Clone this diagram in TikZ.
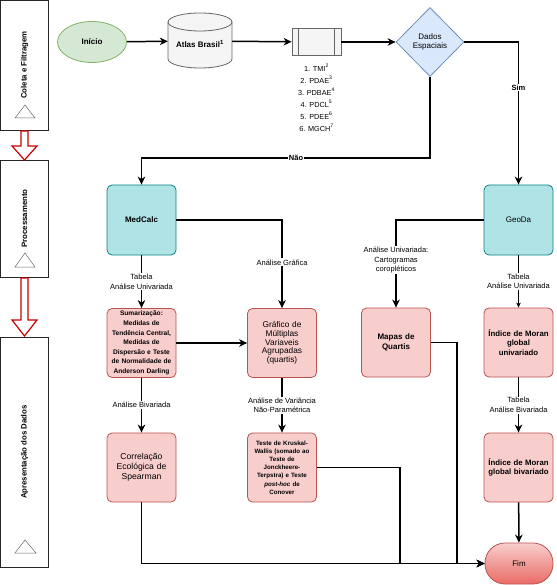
\documentclass[tikz,border=0pt]{standalone}
\usepackage{fontspec}
\setmainfont{Liberation Sans}
\usepackage{tikz}
\usetikzlibrary{arrows.meta}
\usetikzlibrary{shapes.geometric}
\usetikzlibrary{positioning}

\definecolor{grnfill}{HTML}{D5E8D4}
\definecolor{grnline}{HTML}{82B366}
\definecolor{gryfill}{HTML}{F5F5F5}
\definecolor{gryline}{HTML}{666666}
\definecolor{blufill}{HTML}{DAE8FC}
\definecolor{bluline}{HTML}{6C8EBF}
\definecolor{tealfill}{HTML}{B0E3E6}
\definecolor{tealline}{HTML}{0E8088}
\definecolor{pinkfill}{HTML}{F8CECC}
\definecolor{pinkline}{HTML}{B85450}
\definecolor{fimdark}{HTML}{EA6B66}
\definecolor{stagered}{HTML}{CC0000}

\begin{document}
\begin{tikzpicture}[x=1pt, y=-1pt, font=\fontsize{8}{9.6}\selectfont,
    flow/.style={line width=1.5pt, -{Stealth[length=8pt, width=7.5pt, inset=2.5pt]}},
    thinflow/.style={line width=0.6pt, -{Stealth[length=5pt, width=4.5pt, inset=1.5pt]}},
    lbl/.style={fill=white, inner sep=1pt, align=center, font=\fontsize{7.5}{9.5}\selectfont},
    tool/.style={rectangle, rounded corners=5pt, draw=tealline, fill=tealfill, line width=0.8pt, minimum width=69pt, minimum height=70pt, align=center},
    result/.style={rectangle, rounded corners=5pt, draw=pinkline, fill=pinkfill, line width=0.8pt, minimum width=69pt, minimum height=69pt, text width=66pt, align=center, inner sep=1pt},
    stage/.style={rectangle, draw=black!85, line width=0.6pt, fill=white, rotate=90, minimum height=48pt, font=\bfseries\fontsize{7.8}{9}\selectfont},
    mark3/.style={draw=gryline, line width=0.5pt, fill=white},
    bigarrow/.style={draw=stagered, line width=1.2pt, fill=white, line join=miter}]
    \useasboundingbox (0,0) rectangle (556,585);
    %% Stages
    \node[stage, minimum width=130pt] (coleta) at (24.5,65) {Coleta e Filtragem};
    \node[stage, minimum width=117pt] (process) at (24.5,218.5) {Processamento};
    \node[stage, minimum width=230pt] (apres) at (24.5,452) {Apresentação dos Dados};
    \draw[mark3] (25,105) -- (35,118) -- (15,118) -- cycle;
    \draw[mark3] (25,253) -- (35,267) -- (15,267) -- cycle;
    \draw[mark3] (25,540) -- (36,553) -- (15,553) -- cycle;
    \def\sl{21} \def\sr{28} \def\hl{12} \def\hr{37}
    \draw[bigarrow] (\sl,131) -- (\sr,131) -- (\sr,146) -- (\hr,146) -- (24.5,160) -- (\hl,146) -- (\sl,146) -- cycle;
    \draw[bigarrow] (\sl,278) -- (\sr,278) -- (\sr,320) -- (\hr,320) -- (24.5,336) -- (\hl,320) -- (\sl,320) -- cycle;
    %% Top row
    \node[ellipse, draw=grnline, fill=grnfill, line width=0.8pt, minimum width=69pt, minimum height=41pt, font=\bfseries\fontsize{8}{9.6}\selectfont] (inicio) at (92,42) {Início};
    \node[minimum width=64pt, minimum height=55pt] (atlas) at (200,41) {};
    \filldraw[draw=gryline, fill=gryfill, line width=0.8pt] (168,22) -- (168,59) arc[start angle=180, end angle=0, x radius=32, y radius=9] -- (232,22) arc[start angle=0, end angle=-180, x radius=32, y radius=9] -- cycle;
    \draw[gryline, line width=0.8pt] (168,22) arc[start angle=180, end angle=0, x radius=32, y radius=9];
    \node[font=\bfseries\fontsize{8}{9.6}\selectfont] at (200,44) {Atlas Brasil\textsuperscript{1}};
    \node[rectangle, draw=gryline, fill=gryfill, line width=0.8pt, minimum width=49pt, minimum height=27pt] (tmi) at (316.5,42) {};
    \draw[gryline, line width=0.8pt] (tmi.north west) ++(7,0) -- ++(0,27) (tmi.north east) ++(-7,0) -- ++(0,27);
    \node[below=5pt of tmi, align=center, font=\fontsize{7.3}{12}\selectfont] (lista) {1. TMI\textsuperscript{2}\\2. PDAE\textsuperscript{3}\\3. PDBAE\textsuperscript{4}\\4. PDCL\textsuperscript{5}\\5. PDEE\textsuperscript{6}\\6. MGCH\textsuperscript{7}};
    \node[diamond, aspect=1, draw=bluline, fill=blufill, line width=0.8pt, minimum width=68pt, minimum height=69pt, inner sep=0pt, align=center] (dados) at (430,42) {Dados\\Espaciais};
    \draw[flow] (inicio) -- (atlas);
    \draw[flow] (atlas) -- (tmi);
    \draw[flow] (tmi) -- (dados);
    %% Tools
    \node[tool, font=\bfseries\fontsize{8}{9.6}\selectfont] (medcalc) at (141.5,220) {MedCalc};
    \node[tool] (geoda) at (518.5,220) {GeoDa};
    \coordinate (nao) at (296,158);
    \draw[flow] (dados.east) -| node[lbl, pos=0.66, font=\bfseries\fontsize{7.5}{9}\selectfont]{Sim} (geoda.north);
    \draw[flow] (dados.south) |- (nao) node[lbl, font=\bfseries\fontsize{7.5}{9}\selectfont]{Não} -| (medcalc.north);
    %% Results
    \node[result, font=\bfseries\fontsize{6.6}{9.6}\selectfont] (sumar) at (141.5,343) {Sumarização:\\Medidas de\\Tendência Central,\\Medidas de\\Dispersão e Teste\\de Normalidade de\\Anderson Darling};
    \node[result, font=\fontsize{8.3}{8.6}\selectfont] (grafico) at (282,343) {Gráfico de\\Múltiplas\\Variaveis\\Agrupadas\\(quartis)};
    \node[result, font=\bfseries\fontsize{8}{9.6}\selectfont] (mapas) at (396,342.5) {Mapas de\\Quartis};
    \node[result, font=\bfseries\fontsize{7.8}{9.6}\selectfont] (moranuni) at (518.5,342.5) {Índice de Moran\\global\\univariado};
    \node[result, font=\fontsize{8.6}{10}\selectfont] (spearman) at (141.5,467.5) {Correlação\\Ecológica de\\Spearman};
    \node[result, font=\bfseries\fontsize{6.2}{8.2}\selectfont] (kruskal) at (282,467.5) {Teste de Kruskal-\\Wallis (somado ao\\Teste de\\Jonckheere-\\Terpstra) e Teste\\\textit{post-hoc} de\\Conover};
    \node[result, font=\bfseries\fontsize{7.8}{9.6}\selectfont] (moranbi) at (518.5,467.5) {Índice de Moran\\global bivariado};
    \node[rectangle, rounded corners=20pt, draw=pinkline, top color=pinkfill, bottom color=fimdark, line width=0.8pt, minimum width=68pt, minimum height=41pt] (fim) at (519,563.5) {Fim};
    %% Connectors
    \draw[flow] (medcalc) -- node[lbl]{Tabela\\Análise Univariada} (sumar);
    \draw[flow] (medcalc.east) -| node[lbl, pos=0.74]{Análise Gráfica} (grafico.north);
    \draw[flow] (geoda.west) -| node[lbl, pos=0.73]{Análise Univariada:\\Cartogramas\\coropléticos} (mapas.north);
    \draw[thinflow] (geoda) -- node[lbl]{Tabela\\Análise Univariada} (moranuni);
    \draw[flow] (sumar) -- (grafico);
    \draw[flow] (sumar) -- node[lbl]{Análise Bivariada} (spearman);
    \draw[flow] (grafico) -- node[lbl]{Análise de Variância\\Não-Paramétrica} (kruskal);
    \draw[flow] (moranuni) -- node[lbl]{Tabela\\Análise Bivariada} (moranbi);
    \draw[flow] (moranbi) -- (fim);
    \coordinate (kjoin) at (400,563.5);
    \coordinate (mjoin) at (457,563.5);
    \draw[flow] (spearman.south) |- (fim.west);
    \draw[flow] (kruskal.east) -| (kjoin) -- (fim.west);
    \draw[flow] (mapas.east) -| (mjoin) -- (fim.west);
\end{tikzpicture}
\end{document}
